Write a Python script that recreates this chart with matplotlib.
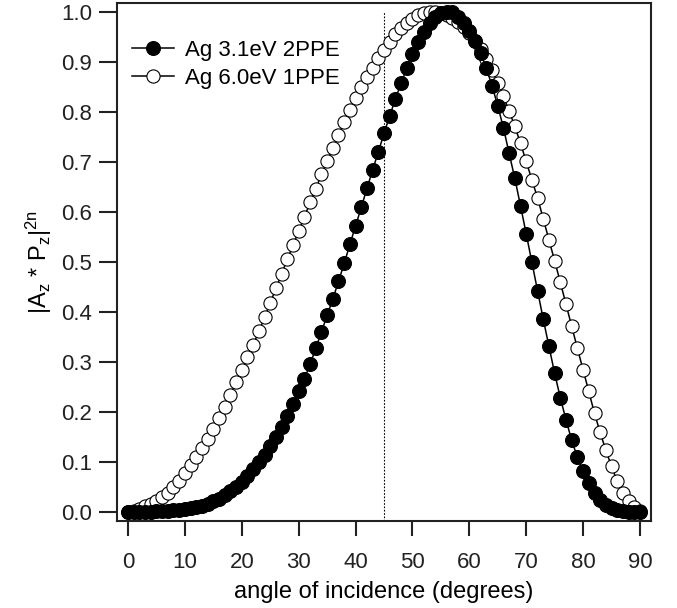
import numpy as np
import matplotlib.pyplot as plt

plt.rcParams['font.family'] = ['Liberation Sans', 'DejaVu Sans']
plt.rcParams['mathtext.default'] = 'regular'

# angle of incidence, one point per degree
angle = list(range(0, 91))

# Ag 3.1eV 2PPE (filled)
ag_2ppe = [0.000, 0.000, 0.000, 0.000, 0.0005, 0.001, 0.001, 0.002, 0.003, 0.004,
           0.005, 0.007, 0.009, 0.012, 0.016, 0.021, 0.026, 0.033, 0.041, 0.050,
           0.060, 0.072, 0.085, 0.099, 0.114, 0.131, 0.149, 0.169, 0.191, 0.216,
           0.241, 0.266, 0.295, 0.327, 0.360, 0.393, 0.426, 0.461, 0.497, 0.535,
           0.572, 0.609, 0.647, 0.684, 0.720, 0.757, 0.792, 0.826, 0.857, 0.887,
           0.915, 0.940, 0.960, 0.977, 0.989, 0.997, 1.000, 0.999, 0.990, 0.977,
           0.961, 0.942, 0.918, 0.887, 0.852, 0.812, 0.768, 0.717, 0.667, 0.612,
           0.556, 0.499, 0.442, 0.385, 0.331, 0.277, 0.228, 0.184, 0.143, 0.109,
           0.081, 0.057, 0.038, 0.024, 0.014, 0.007, 0.003, 0.001, 0.0003, 0.000,
           0.000]

# Ag 6.0eV 1PPE (open)
ag_1ppe = [0.000, 0.002, 0.006, 0.011, 0.016, 0.022, 0.029, 0.038, 0.049, 0.062,
           0.077, 0.093, 0.109, 0.127, 0.146, 0.166, 0.187, 0.209, 0.234, 0.259,
           0.284, 0.309, 0.334, 0.361, 0.389, 0.418, 0.447, 0.476, 0.505, 0.533,
           0.562, 0.589, 0.619, 0.646, 0.675, 0.701, 0.728, 0.754, 0.779, 0.804,
           0.827, 0.849, 0.869, 0.887, 0.907, 0.924, 0.940, 0.955, 0.967, 0.977,
           0.986, 0.993, 0.998, 1.000, 1.000, 0.998, 0.994, 0.988, 0.979, 0.969,
           0.957, 0.942, 0.925, 0.906, 0.884, 0.858, 0.831, 0.802, 0.771, 0.737,
           0.701, 0.664, 0.628, 0.586, 0.544, 0.502, 0.459, 0.415, 0.371, 0.327,
           0.284, 0.241, 0.197, 0.159, 0.123, 0.091, 0.061, 0.037, 0.021, 0.009,
           0.002]

ref_angle = 45

fig = plt.figure(figsize=(6.77, 6.08), dpi=100)
ax = fig.add_axes([0.1728, 0.1431, 0.7888, 0.8520])

ax.plot([ref_angle, ref_angle], [-0.018, 1.0], color='black', lw=0.8,
        ls=(0, (1.5, 1.5)), zorder=1)
ax.plot(angle, ag_1ppe, '-o', color='black', lw=1.1, ms=9.5,
        mfc='white', mec='black', mew=0.8, label='Ag 6.0eV 1PPE', zorder=2)
ax.plot(angle, ag_2ppe, '-o', color='black', lw=1.1, ms=10,
        mfc='black', mec='black', mew=0.8, label='Ag 3.1eV 2PPE', zorder=3)

ax.set_xlim(-1.93, 91.93)
ax.set_ylim(-0.018, 1.018)
ax.set_xticks(np.arange(0, 91, 10))
ax.set_yticks(np.arange(0, 1.01, 0.1))
ax.set_yticklabels(['%.1f' % v for v in np.arange(0, 1.01, 0.1)])

for s in ax.spines.values():
    s.set_linewidth(1.5)
    s.set_color('#222222')
ax.tick_params(axis='x', direction='out', length=11, width=1.5, pad=11,
               labelsize=16, colors='#222222')
ax.tick_params(axis='y', direction='out', length=13, width=1.5, pad=5,
               labelsize=16, colors='#222222')

ax.set_xlabel('angle of incidence (degrees)', fontsize=17, labelpad=6)
ax.set_ylabel('|A$_z$ * P$_z$|$^{2n}$', fontsize=17, labelpad=5)

h, l = ax.get_legend_handles_labels()
ax.legend(h[::-1], l[::-1], loc='upper left', bbox_to_anchor=(0.028, 0.928),
          frameon=False, fontsize=16, borderpad=0, borderaxespad=0,
          handlelength=1.9, handletextpad=0.5, labelspacing=0.3)

fig.savefig('out.png', dpi=100)
